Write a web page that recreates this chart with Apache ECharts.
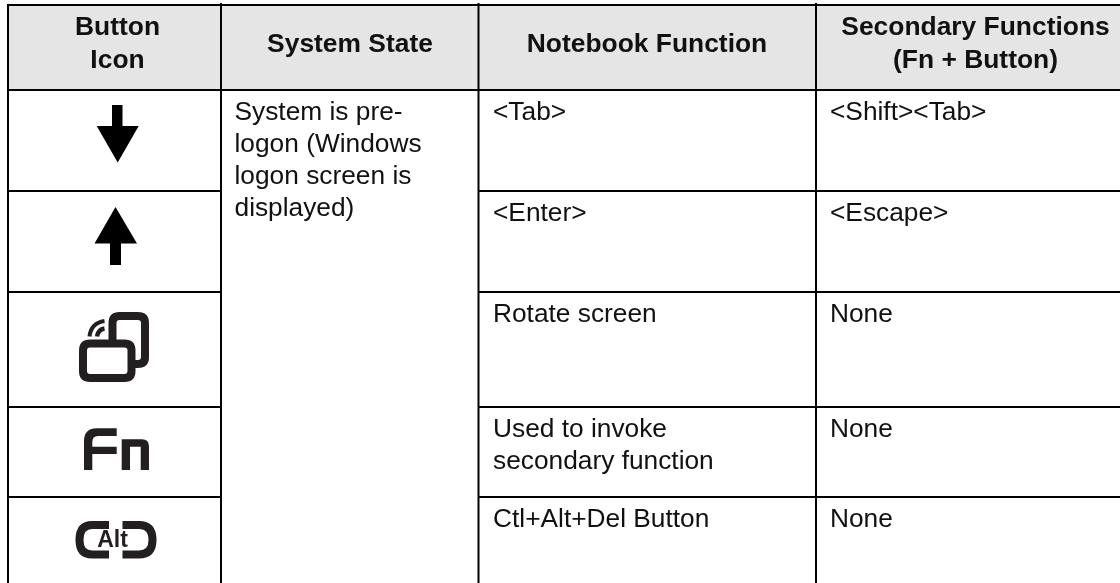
<!DOCTYPE html>
<html>
<head>
<meta charset="utf-8">
<title>Button functions</title>
<style>
  html, body { margin: 0; padding: 0; background: #fff; }
  #chart { width: 1120px; height: 583px; }
</style>
<script src="https://cdn.jsdelivr.net/npm/echarts@6/dist/echarts.min.js"></script>
</head>
<body>
<div id="chart"></div>
<script>
// table content
const headers = ['Button\nIcon', 'System State', 'Notebook Function', 'Secondary Functions\n(Fn + Button)']
const systemState = 'System is pre-\nlogon (Windows\nlogon screen is\ndisplayed)'
const notebookFunctions = ['<Tab>', '<Enter>', 'Rotate screen', 'Used to invoke\nsecondary function', 'Ctl+Alt+Del Button']
const secondaryFunctions = ['<Shift><Tab>', '<Escape>', 'None', 'None', 'None']
const buttonIcons = ['down', 'up', 'rotate', 'fn', 'alt']

// page layout, the axes run 1:1 with the picture
const colEdges = [8, 221, 478.5, 816, 1120]
const rowEdges = [5, 90, 191, 292, 407, 497, 583]
const headerCenters = [117.5, 350, 647, 975.5]
const FONT = '"Liberation Sans", Arial, sans-serif'
const INK = '#231f20'

const chart = echarts.init(document.getElementById('chart'))

const line = (api, x1, y1, x2, y2) => {
  const a = api.coord([x1, y1])
  const b = api.coord([x2, y2])
  return {
    type: 'line',
    shape: { x1: a[0], y1: a[1], x2: b[0], y2: b[1] },
    style: { stroke: '#000', lineWidth: 2 }
  }
}

const renderRules = (params, api) => {
  const children = []
  // verticals, inner ones poke a little above the table
  colEdges.slice(0, 4).forEach((x, i) => {
    children.push(line(api, x, i === 0 ? rowEdges[0] - 1 : 3, x, 583))
  })
  // header
  children.push(line(api, colEdges[0], rowEdges[0], 1120, rowEdges[0]))
  children.push(line(api, colEdges[0], rowEdges[1], 1120, rowEdges[1]))
  // the system state cell is merged so rows skip it
  rowEdges.slice(2, 6).forEach(y => {
    children.push(line(api, colEdges[0], y, colEdges[1], y))
    children.push(line(api, colEdges[2], y, 1120, y))
  })
  return { type: 'group', children }
}

const renderHeaderFill = (params, api) => {
  const a = api.coord([colEdges[0], rowEdges[0]])
  const b = api.coord([1120, rowEdges[1]])
  return {
    type: 'rect',
    shape: { x: a[0], y: a[1], width: b[0] - a[0], height: b[1] - a[1] },
    style: { fill: '#e5e5e5' }
  }
}

const textCell = (api, x, y, text, opt) => {
  const p = api.coord([x, y])
  return {
    type: 'text',
    style: Object.assign({
      x: p[0],
      y: p[1],
      text,
      fill: '#111',
      font: '400 26.3px ' + FONT,
      lineHeight: 32,
      verticalAlign: 'middle',
      align: 'left'
    }, opt)
  }
}

const renderHeaders = (params, api) => ({
  type: 'group',
  children: headers.map((h, i) => textCell(api, headerCenters[i], 44.5, h, {
    font: '700 26.4px ' + FONT,
    align: 'center',
    lineHeight: 33
  }))
})

const renderBody = (params, api) => {
  const children = []
  children.push(textCell(api, 234.5, rowEdges[1] + 7, systemState, { verticalAlign: 'top' }))
  notebookFunctions.forEach((t, i) => {
    children.push(textCell(api, 493, rowEdges[i + 1] + 7, t, { verticalAlign: 'top' }))
  })
  secondaryFunctions.forEach((t, i) => {
    children.push(textCell(api, 830, rowEdges[i + 1] + 7, t, { verticalAlign: 'top' }))
  })
  return { type: 'group', children }
}

// icon outlines, in picture pixels
const filled = (api, pathData) => ({ type: 'path', shape: { pathData }, style: { fill: INK } })
const stroked = (api, pathData, width, fill) => ({
  type: 'path',
  shape: { pathData },
  style: { fill: fill || 'none', stroke: INK, lineWidth: width }
})

const roundedRect = (x1, y1, x2, y2, r) =>
  `M${x1 + r} ${y1}L${x2 - r} ${y1}Q${x2} ${y1} ${x2} ${y1 + r}L${x2} ${y2 - r}Q${x2} ${y2} ${x2 - r} ${y2}` +
  `L${x1 + r} ${y2}Q${x1} ${y2} ${x1} ${y2 - r}L${x1} ${y1 + r}Q${x1} ${y1} ${x1 + r} ${y1}Z`

const iconParts = {
  down: api => [
    { type: 'path', shape: { pathData: 'M112 105L122.5 105L122.5 126L138.7 126L117.7 162.5L96.7 126L112 126Z' }, style: { fill: '#000' } }
  ],
  up: api => [
    { type: 'path', shape: { pathData: 'M115.5 207L137 243.5L121 243.5L121 265L110 265L110 243.5L94.5 243.5Z' }, style: { fill: '#000' } }
  ],
  rotate: api => [
    stroked(api, roundedRect(112.5, 316, 145, 364, 7), 8),
    stroked(api, roundedRect(83, 343.5, 131.5, 378, 7), 8, '#fff'),
    stroked(api, 'M89.5 336.5Q91 323 104.5 321', 4),
    stroked(api, 'M97 336.5Q98 329.5 104.5 328.5', 4.5)
  ],
  fn: api => [
    filled(api, 'M84 470L84 441Q84 428.3 97 428.3L116.7 428.3L116.7 436L98 436Q92.3 436 92.3 442L92.3 446.7L116.7 446.7L116.7 454L92.3 454L92.3 470Z'),
    filled(api, 'M121.7 470L121.7 439.3L142 439.3Q149 439.3 149 446.5L149 470L140.7 470L140.7 446.7L130 446.7L130 470Z')
  ],
  alt: api => [
    stroked(api, 'M109 525L92 525Q79.5 525 79.5 540Q79.5 554.5 92 554.5L109 554.5', 8),
    stroked(api, 'M122.5 525L139 525Q152.5 525 152.5 540Q152.5 554.5 139 554.5L122.5 554.5', 8),
    {
      type: 'text',
      style: {
        x: 112.5, y: 540.5, text: 'Alt', fill: INK,
        font: '700 23px "Liberation Sans Narrow", ' + FONT,
        align: 'center', verticalAlign: 'middle'
      }
    }
  ]
}

const renderIcons = (params, api) => ({
  type: 'group',
  children: buttonIcons.flatMap(name => iconParts[name](api))
})

const custom = (name, renderItem) => ({
  name,
  type: 'custom',
  coordinateSystem: 'cartesian2d',
  renderItem,
  silent: true,
  clip: false,
  data: [[0, 0]]
})

const option = {
  animation: false,
  backgroundColor: '#fff',
  grid: { left: 0, right: 0, top: 0, bottom: 0 },
  xAxis: { type: 'value', min: 0, max: 1120, show: false },
  yAxis: { type: 'value', min: 0, max: 583, inverse: true, show: false },
  series: [
    custom('headerFill', renderHeaderFill),
    custom('rules', renderRules),
    custom('headers', renderHeaders),
    custom('body', renderBody),
    custom('icons', renderIcons)
  ]
}

chart.setOption(option)
</script>
</body>
</html>
